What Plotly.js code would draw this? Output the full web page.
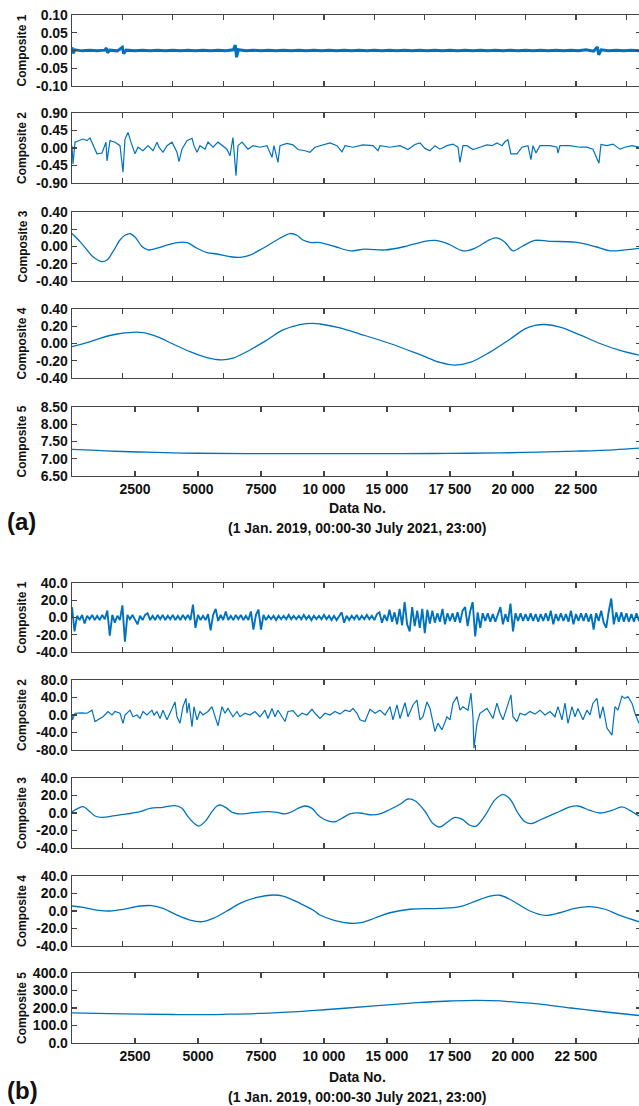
<!DOCTYPE html>
<html><head><meta charset="utf-8">
<script src="https://cdn.plot.ly/plotly-3.0.1.min.js"></script>
<style>html,body{margin:0;padding:0;overflow:hidden;background:#fff}</style>
</head><body><div id="chart" style="width:641px;height:1106px"></div>
<script>
// ---------- tick labels ----------
const xTickVals = [0,2500,5000,7500,10000,12500,15000,17500,20000,22500];
const xTickText = ['','2500','5000','7500','10 000','15 000','17 500','20 000','22 500',''];
const xRange = [0, 22580];

const yTicksA1 = [-0.1,-0.05,0,0.05,0.1];   const yTextA1 = ['-0.10','-0.05','0.00','0.05','0.10'];
const yTicksA2 = [-0.9,-0.45,0,0.45,0.9];   const yTextA2 = ['-0.90','-0.45','0.00','0.45','0.90'];
const yTicksA3 = [-0.4,-0.2,0,0.2,0.4];     const yTextA3 = ['-0.40','-0.20','0.00','0.20','0.40'];
const yTicksA5 = [6.5,7,7.5,8,8.5];         const yTextA5 = ['6.50','7.00','7.50','8.00','8.50'];
const yTicksB1 = [-40,-20,0,20,40];         const yTextB1 = ['-40.0','-20.0','0.0','20.0','40.0'];
const yTicksB2 = [-80,-40,0,40,80];         const yTextB2 = ['-80.0','-40.0','0.0','40.0','80.0'];
const yTicksB5 = [0,100,200,300,400];       const yTextB5 = ['0.0','100.0','200.0','300.0','400.0'];

// ---------- (a) series: [Data No., value] ----------
const compA1 = [[0,0.009],[40,-0.008],[120,0.002],[400,-0.001],[700,0.001],[1000,-0.001],[1300,0.001],[1370,0.007],[1410,-0.006],[1500,0.001],[1800,-0.001],[2000,0.009],[2050,-0.009],[2150,0.001],[2500,-0.001],[2800,0.001],[3100,-0.001],[3400,0.001],[3700,-0.001],[4000,0.001],[4300,-0.001],[4600,0.001],[4900,-0.001],[5200,0.001],[5500,-0.001],[5800,0.001],[6100,-0.001],[6400,0.002],[6480,0.015],[6530,-0.019],[6600,0.002],[6900,-0.001],[7200,0.001],[7500,-0.001],[7800,0.001],[8100,-0.001],[8400,0.001],[8700,-0.001],[9000,0.001],[9300,-0.001],[9600,0.001],[9900,-0.001],[10200,0.001],[10500,-0.001],[10800,0.001],[11100,-0.001],[11400,0.001],[11700,-0.001],[12000,0.001],[12300,-0.001],[12600,0.001],[12900,-0.001],[13200,0.001],[13500,-0.001],[13800,0.001],[14100,-0.001],[14400,0.001],[14700,-0.001],[15000,0.001],[15300,-0.001],[15600,0.001],[15900,-0.001],[16200,0.001],[16500,-0.001],[16800,0.001],[17100,-0.001],[17400,0.001],[17700,-0.001],[18000,0.001],[18300,-0.001],[18600,0.001],[18900,-0.001],[19200,0.001],[19500,-0.001],[19800,0.001],[20100,-0.001],[20400,0.002],[20700,-0.002],[20850,0.010],[20900,-0.012],[21000,0.002],[21300,-0.001],[21600,0.001],[21900,-0.001],[22200,0.001],[22580,-0.001]];

const compA2 = [[0,0.06],[40,-0.41],[119,0.15],[437,0.23],[595,0.19],[714,0.26],[992,-0.15],[1190,-0.13],[1349,0.15],[1389,-0.33],[1508,0.19],[1706,0.15],[1905,0.06],[2024,-0.62],[2103,0.23],[2222,0.40],[2341,0.15],[2500,-0.15],[2619,0.02],[2817,-0.07],[3016,0.06],[3214,-0.07],[3373,0.15],[3452,0.02],[3611,-0.11],[3770,0.06],[3968,0.15],[4166,-0.11],[4246,-0.35],[4365,-0.03],[4563,0.19],[4762,0.25],[4841,0.06],[4960,-0.11],[5079,0.06],[5277,-0.03],[5396,0.15],[5595,0.02],[5793,0.15],[5952,0.06],[6150,-0.03],[6269,-0.2],[6388,0.27],[6508,-0.71],[6587,0.06],[6746,0.15],[6865,0.06],[6984,-0.03],[7182,0.06],[7460,0.02],[7738,0.06],[7936,-0.24],[8015,0.06],[8174,-0.37],[8253,0.06],[8531,0.12],[8769,0.08],[8968,-0.04],[9245,-0.07],[9444,-0.11],[9642,0.02],[9841,0.06],[10237,0.13],[10515,0.06],[10714,-0.1],[10833,0.06],[11150,0.02],[11547,0.08],[11944,0.06],[12142,-0.07],[12221,0.06],[12618,0.02],[13015,0.06],[13333,-0.04],[13610,0.09],[13809,0.13],[14007,-0.01],[14206,-0.07],[14404,0.06],[14602,-0.03],[14880,0.06],[15118,0.1],[15317,0.02],[15396,-0.37],[15515,0.06],[15674,0.06],[15912,-0.04],[16189,0.02],[16467,0.08],[16666,0.06],[16864,0.13],[17062,0.06],[17181,0.16],[17300,0.21],[17419,-0.15],[17658,-0.15],[17856,0.02],[18094,0.06],[18213,-0.3],[18293,0.06],[18412,-0.13],[18570,0.06],[18967,0.06],[19245,0.02],[19285,-0.13],[19364,0.06],[19761,0.06],[20157,0.02],[20435,0.02],[20673,-0.03],[20792,-0.2],[20911,-0.39],[20991,0.09],[21229,0.06],[21467,0.1],[21744,-0.03],[21943,0.02],[22221,0.06],[22499,0.02],[22580,0.03]];

const compA3 = [[0,0.15],[317,0.056],[595,-0.04],[833,-0.12],[1190,-0.176],[1389,-0.157],[1627,-0.06],[1905,0.075],[2103,0.13],[2301,0.15],[2500,0.11],[2778,0.0],[3016,-0.04],[3373,-0.02],[3770,0.017],[4166,0.045],[4563,0.045],[4960,-0.02],[5357,-0.07],[5754,-0.087],[6269,-0.118],[6666,-0.126],[7063,-0.1],[7579,-0.02],[8134,0.075],[8650,0.15],[8928,0.13],[9166,0.075],[9444,0.048],[9841,0.045],[10436,0.0],[11031,-0.05],[11626,-0.03],[12420,-0.04],[13214,0.0],[14007,0.06],[14404,0.07],[14920,0.03],[15515,-0.05],[15991,-0.02],[16586,0.08],[16864,0.1],[17181,0.05],[17499,-0.05],[17856,0.0],[18372,0.07],[18967,0.06],[19959,0.05],[20753,0.0],[21348,-0.05],[21943,-0.04],[22580,-0.02]];

const compA4 = [[0,-0.037],[595,0.01],[1111,0.06],[1786,0.11],[2420,0.13],[2817,0.126],[3373,0.08],[4008,-0.006],[4682,-0.095],[5357,-0.164],[5952,-0.19],[6388,-0.17],[7063,-0.075],[7738,0.04],[8372,0.157],[9047,0.22],[9563,0.234],[9841,0.226],[10634,0.18],[11428,0.11],[12618,0.0],[13809,-0.13],[14602,-0.22],[15198,-0.25],[15793,-0.22],[16586,-0.1],[17380,0.05],[17975,0.17],[18372,0.21],[18769,0.22],[19364,0.19],[20157,0.1],[20951,0.0],[21744,-0.08],[22580,-0.14]];

const compA5 = [[0,7.27],[1000,7.24],[2000,7.21],[3000,7.19],[4000,7.17],[5000,7.16],[7000,7.15],[10000,7.15],[13000,7.15],[15000,7.155],[17000,7.17],[18500,7.19],[20000,7.22],[21500,7.26],[22580,7.31]];

// ---------- (b) series ----------
// Composite 1 (b): one reading every 100 data numbers
const compB1Step = 100;
const compB1 = [
  12,-16,2,-3,3,-7,2,-2,3,-3,
  2,-3,3,-2,8,-21,3,-6,2,-3,
  14,-28,3,-2,3,-3,-8,2,-3,3,
  5,-3,2,-3,3,-2,3,-3,2,-2,
  3,-3,2,-3,3,-2,3,-3,15,-12,
  3,-3,2,-3,4,-15,3,10,-4,3,
  -3,7,-3,2,-3,3,-2,3,-3,2,
  -3,7,-14,3,9,-14,3,-3,2,-2,
  2,-3,2,-2,2,-2,3,-2,2,-2,
  2,-2,3,-2,2,-3,2,-2,2,-2,
  3,-2,2,-3,2,-3,2,6,-6,2,
  -3,2,-2,3,-3,2,-2,3,-2,2,
  -3,4,6,-6,3,-4,9,-5,6,-8,
  10,-9,18,-8,-16,12,-10,8,-12,10,
  -18,9,-7,8,-6,5,-5,10,-8,5,
  -4,5,-5,6,-6,8,12,-10,7,18,
  -22,6,-12,5,-4,5,-5,4,-5,4,
  12,-8,4,-5,16,-16,5,-4,5,-4,
  4,-4,5,-4,4,-5,4,-4,5,-4,
  8,-8,4,-4,5,-4,4,-5,8,-8,
  4,-4,5,-4,5,-5,4,-14,5,-4,
  8,-6,-12,7,22,-8,6,-5,6,-5,
  5,-5,4,-5,5,-4,3
];

const compB2 = [[0,0],[20,-11],[119,4],[397,5],[595,4],[794,11],[913,-15],[1032,-11],[1230,-4],[1428,8],[1587,0],[1706,8],[1905,4],[2024,-19],[2103,0],[2301,11],[2420,-4],[2579,0],[2698,-8],[2817,8],[2976,0],[3174,11],[3254,0],[3373,8],[3492,-8],[3611,11],[3770,-11],[3889,4],[4008,20],[4087,30],[4166,-4],[4285,-19],[4404,19],[4523,38],[4563,4],[4642,27],[4762,-27],[4841,19],[4960,-11],[5079,8],[5198,0],[5396,8],[5555,19],[5674,-4],[5793,-25],[5952,19],[6071,4],[6190,15],[6388,-4],[6547,8],[6666,-4],[6865,4],[7063,0],[7261,8],[7460,-4],[7658,11],[7777,-8],[7936,15],[8055,-4],[8174,11],[8333,-4],[8452,-15],[8571,8],[8769,10],[8968,-4],[9126,4],[9325,0],[9523,13],[9642,4],[9841,-8],[10039,4],[10237,0],[10436,8],[10634,2],[10833,11],[11031,8],[11150,15],[11309,4],[11428,-11],[11626,-15],[11825,13],[12023,4],[12221,11],[12420,0],[12618,19],[12737,-11],[12896,23],[13015,-8],[13214,28],[13333,-4],[13531,23],[13689,34],[13809,-11],[13928,-4],[14087,30],[14206,15],[14404,-38],[14523,-19],[14682,-34],[14880,-4],[14999,-11],[15118,27],[15277,42],[15396,11],[15515,19],[15714,11],[15832,50],[15912,-4],[15951,-76],[16071,-19],[16189,4],[16467,15],[16586,4],[16705,-8],[16864,27],[16983,4],[17102,-11],[17261,19],[17419,46],[17499,-4],[17658,-15],[17777,4],[17975,0],[18174,8],[18372,2],[18570,11],[18769,0],[18967,8],[19166,-4],[19285,19],[19444,-11],[19563,27],[19682,-19],[19840,19],[19959,-4],[20078,15],[20276,-11],[20435,11],[20554,0],[20673,27],[20832,38],[20951,-8],[21070,19],[21229,-30],[21427,-46],[21546,19],[21665,11],[21824,43],[21943,38],[22062,42],[22221,27],[22340,4],[22499,-19],[22580,-10]];

const compB3 = [[0,1.5],[238,5.3],[437,7.2],[635,3.5],[913,-3.4],[1190,-5],[1627,-3.4],[2182,-1.1],[2698,1.5],[3095,5.3],[3611,6.5],[4087,8.4],[4365,5.3],[4603,-4.2],[4881,-12.6],[5039,-14.9],[5277,-9.9],[5555,1.5],[5754,8],[5912,9.1],[6150,5.3],[6388,0.4],[6666,-1.1],[7182,0.4],[7738,1.5],[8134,0.8],[8452,-1.1],[8730,1.5],[8968,5.3],[9245,8],[9523,5.3],[9722,-1.1],[9841,-4.2],[10158,-9],[10436,-10],[10714,-6],[11031,-1],[11428,0],[11825,-2],[12221,-1],[12618,4],[13015,10],[13333,16],[13610,14],[14007,2],[14325,-12],[14602,-16],[14920,-10],[15198,-5],[15476,-7],[15793,-14],[16031,-15],[16388,-3],[16785,15],[17102,21],[17380,16],[17697,0],[17975,-10],[18253,-12],[18570,-8],[18967,-3],[19364,2],[19761,7],[20078,8],[20554,3],[20951,0],[21427,3],[21824,7],[22142,3],[22580,-5]];

const compB4 = [[0,5.7],[437,4.2],[992,1.1],[1508,0],[2024,1.9],[2698,5.7],[3174,6.1],[3611,3],[4166,-4.6],[4682,-10.3],[5158,-12.2],[5595,-8.4],[6150,0],[6666,8.8],[7341,15.6],[7976,18.3],[8372,17.1],[9047,8.8],[9563,1.1],[9841,-4.6],[10436,-11],[11031,-14],[11507,-13],[12023,-8],[12618,-2],[13412,2],[14602,3],[15396,5],[15991,11],[16586,17],[16983,18],[17459,12],[18174,0],[18769,-5],[19364,-2],[19959,3],[20554,5],[21150,2],[21744,-5],[22580,-13]];

const compB5 = [[0,172],[2000,167],[4000,163],[5000,162],[6000,164],[8000,172],[10000,190],[12000,212],[13333,227],[14000,233],[15000,240],[16000,244],[17000,241],[17380,236],[18500,224],[19800,200],[21000,180],[22580,156]];

const titles = ['Composite 1','Composite 2','Composite 3','Composite 4','Composite 5'];
const xTitle = 'Data No.';
const dateRange = '(1 Jan. 2019, 00:00-30 July 2021, 23:00)';

// ---------- build ----------
const compB1Pairs = compB1.map((v, i) => [i * compB1Step, v]);
const seriesA = [compA1, compA2, compA3, compA4, compA5];
const seriesB = [compB1Pairs, compB2, compB3, compB4, compB5];
const yTicksA = [[yTicksA1,yTextA1],[yTicksA2,yTextA2],[yTicksA3,yTextA3],[yTicksA3,yTextA3],[yTicksA5,yTextA5]];
const yTicksB = [[yTicksB1,yTextB1],[yTicksB2,yTextB2],[yTicksB1,yTextB1],[yTicksB1,yTextB1],[yTicksB5,yTextB5]];

const W = 641, H = 1106, L = 72;
const boxesA = [[15,86],[113,183],[212,281],[309,378],[407,476]];
const boxesB = [[583,652],[680,750],[778,848],[876,946],[973,1043]];
const smooth = [false,false,true,true,true];

const FONT = 'Liberation Sans, Arial, sans-serif';
const LC = '#0072BD';
const AX = '#444';

const traces = [];
const layout = {
  width: W, height: H, margin: {l:0,r:0,t:0,b:0},
  paper_bgcolor: '#fff', plot_bgcolor: '#fff', showlegend: false,
  annotations: [], font: {family: FONT, color: '#111'}
};

function addGroup(series, boxes, ticks, offset, wmul) {
  for (let i = 0; i < 5; i++) {
    const n = offset + i + 1;
    const xa = 'xaxis' + (n === 1 ? '' : n), ya = 'yaxis' + (n === 1 ? '' : n);
    const xr = 'x' + (n === 1 ? '' : n), yr = 'y' + (n === 1 ? '' : n);
    const s = series[i];
    traces.push({
      x: s.map(p => p[0]), y: s.map(p => p[1]), xaxis: xr, yaxis: yr,
      type: 'scatter', mode: 'lines',
      line: {color: LC, width: wmul[i], shape: smooth[i] ? 'spline' : 'linear'},
      hoverinfo: 'skip'
    });
    const [top, bot] = boxes[i];
    const last = i === 4;
    layout[xa] = {
      domain: [L / W, 1], range: xRange, anchor: yr,
      showline: true, linecolor: AX, linewidth: 1.3, mirror: 'ticks',
      ticks: 'inside', ticklen: 5, tickwidth: 1.3, tickcolor: AX,
      showgrid: false, zeroline: false,
      tickmode: last ? 'array' : 'linear',
      tickvals: last ? xTickVals : undefined, ticktext: last ? xTickText : undefined,
      tick0: 0, dtick: 2000,
      showticklabels: last,
      tickfont: {family: FONT, size: 14, color: '#111', weight: 'bold'}
    };
    layout[ya] = {
      domain: [1 - bot / H, 1 - top / H], range: [ticks[i][0][0], ticks[i][0][4]], anchor: xr,
      showline: true, linecolor: AX, linewidth: 1.3, mirror: 'ticks',
      ticks: 'inside', ticklen: 5, tickwidth: 1.3, tickcolor: AX,
      showgrid: false, zeroline: false,
      tickmode: 'array', tickvals: ticks[i][0], ticktext: ticks[i][1],
      tickfont: {family: FONT, size: 14, color: '#111', weight: 'bold'}
    };
    layout.annotations.push({
      xref: 'paper', yref: 'paper', x: 22 / W, y: 1 - (top + bot) / 2 / H,
      text: titles[i], textangle: -90, showarrow: false,
      xanchor: 'center', yanchor: 'middle',
      font: {family: FONT, size: 12, color: '#111', weight: 'bold'}
    });
  }
}
addGroup(seriesA, boxesA, yTicksA, 0, [3,1.2,1.3,1.3,1.3]);
addGroup(seriesB, boxesB, yTicksB, 5, [1.9,1.2,1.3,1.3,1.3]);

function note(text, xpx, ypx, size, anchor) {
  layout.annotations.push({
    xref: 'paper', yref: 'paper', x: xpx / W, y: 1 - ypx / H, text: text,
    showarrow: false, xanchor: anchor || 'center', yanchor: 'middle',
    font: {family: FONT, size: size, color: '#111', weight: 'bold'}
  });
}
note(xTitle, 357, 508, 14);
note(dateRange, 357, 528, 14);
note('(a)', 5, 521, 24, 'left');
note(xTitle, 357, 1077, 14);
note(dateRange, 357, 1097, 14);
note('(b)', 5, 1090, 24, 'left');

Plotly.newPlot('chart', traces, layout, {staticPlot: true, displayModeBar: false});
</script></body></html>
